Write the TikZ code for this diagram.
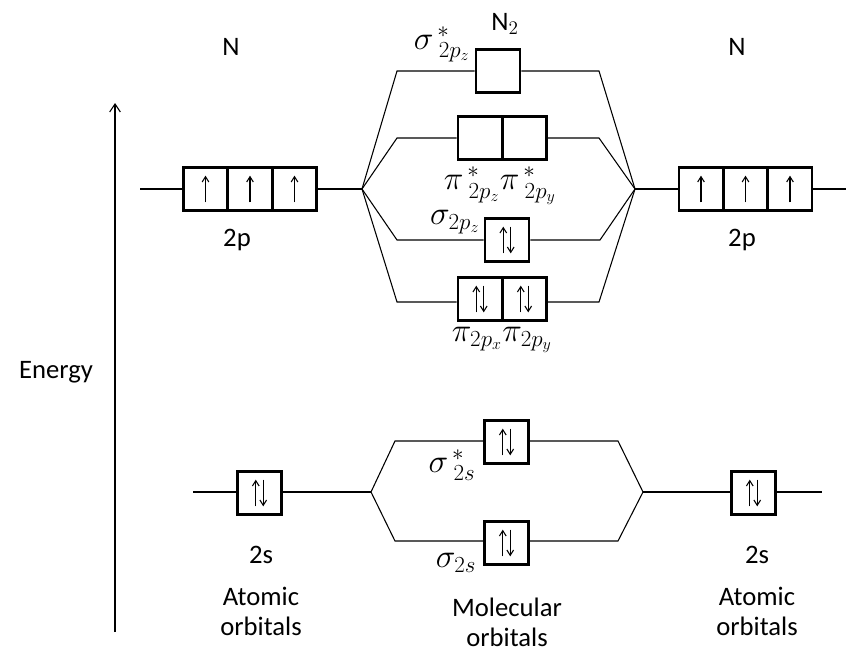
\documentclass[tikz,border=0pt]{standalone}
\usepackage{fontspec}
\setmainfont{Carlito}
\usetikzlibrary{arrows.meta}
\begin{document}
\begin{tikzpicture}[x=0.75pt,y=-0.75pt,
  orb/.style={draw,line width=2pt,rectangle,inner sep=0pt,minimum width=33pt,minimum height=32pt},
  lvl/.style={line width=0.8pt},
  txt/.style={font=\fontsize{20}{22.5}\selectfont,align=center},
  mo/.style={font=\fontsize{23}{26}\selectfont},
  sp/.style={line width=0.8pt,-{Straight Barb[length=4pt,width=5pt]}}
]
\useasboundingbox (0,0) rectangle (846,653);
% labels
\node[txt] (nl) at (231,47) {N};
\node[txt] (nr) at (737,47) {N};
\node[txt] (n2) at (505,24) {N$_2$};
\node[txt] (en) at (56,372) {Energy};
\node[txt] (p2l) at (237,240) {2p};
\node[txt] (p2r) at (742,240) {2p};
\node[txt] (s2l) at (261,555) {2s};
\node[txt] (s2r) at (757,555) {2s};
\node[txt] (aol) at (261,611) {Atomic\\orbitals};
\node[txt] (aor) at (757,611) {Atomic\\orbitals};
\node[txt] (mol) at (507,622) {Molecular\\orbitals};
% energy axis
\coordinate (eb) at (115,632);
\coordinate (et) at (115,103);
\draw[line width=0.8pt,-{Straight Barb[length=6pt,width=8pt]}] (eb) -- (et);
% left 2p
\node[orb] (L1) at (205.5,189) {};
\node[orb] (L2) at (250,189) {};
\node[orb] (L3) at (294.5,189) {};
% right 2p
\node[orb] (R1) at (701,189) {};
\node[orb] (R2) at (745.5,189) {};
\node[orb] (R3) at (790,189) {};
% MO 2p
\node[orb] (SZs) at (498,71) {};
\node[orb] (PXs) at (480,138) {};
\node[orb] (PYs) at (524.5,138) {};
\node[orb] (SZ) at (507,240) {};
\node[orb] (PX) at (480,299) {};
\node[orb] (PY) at (524.5,299) {};
% 2s
\node[orb] (SL) at (259.5,493) {};
\node[orb] (SR) at (753.5,493) {};
\node[orb] (SSs) at (506.5,442) {};
\node[orb] (SS) at (506.5,543) {};
% coordinates
\coordinate (l2e) at (140,189);
\coordinate (vl) at (362,189);
\coordinate (vr) at (635,189);
\coordinate (r2e) at (846,189);
\coordinate (a1) at (397,71);
\coordinate (b1) at (599,71);
\coordinate (a2) at (397,138);
\coordinate (b2) at (599,138);
\coordinate (a3) at (397,240);
\coordinate (b3) at (600,240);
\coordinate (a4) at (397,302);
\coordinate (b4) at (599,302);
\coordinate (sle) at (193,492);
\coordinate (svl) at (371,492);
\coordinate (svr) at (643,492);
\coordinate (sre) at (822,492);
\coordinate (c1) at (395,441);
\coordinate (d1) at (618,441);
\coordinate (c2) at (395,541);
\coordinate (d2) at (618,541);
% connectors 2p
\draw[lvl] (l2e) -- (L1.west);
\draw[lvl] (L3.east) -- (vl);
\draw[lvl] (vr) -- (R1.west);
\draw[lvl] (R3.east) -- (r2e);
\draw[lvl] (vl) -- (a1) -- (SZs.west |- a1);
\draw[lvl] (SZs.east |- b1) -- (b1) -- (vr);
\draw[lvl] (vl) -- (a2) -- (PXs.west |- a2);
\draw[lvl] (PYs.east |- b2) -- (b2) -- (vr);
\draw[lvl] (vl) -- (a3) -- (SZ.west |- a3);
\draw[lvl] (SZ.east |- b3) -- (b3) -- (vr);
\draw[lvl] (vl) -- (a4) -- (PX.west |- a4);
\draw[lvl] (PY.east |- b4) -- (b4) -- (vr);
% connectors 2s
\draw[lvl] (sle) -- (SL.west |- sle);
\draw[lvl] (SL.east |- svl) -- (svl);
\draw[lvl] (svr) -- (SR.west |- svr);
\draw[lvl] (SR.east |- sre) -- (sre);
\draw[lvl] (svl) -- (c1) -- (SSs.west |- c1);
\draw[lvl] (SSs.east |- d1) -- (d1) -- (svr);
\draw[lvl] (svl) -- (c2) -- (SS.west |- c2);
\draw[lvl] (SS.east |- d2) -- (d2) -- (svr);
% electrons: single up
\foreach \b in {L1,L2,L3,R1,R2,R3}{
  \draw[sp] ([yshift=-10pt]\b.center) -- ([yshift=10pt]\b.center);
}
% pairs
\foreach \b in {SZ,PX,PY,SL,SR,SSs,SS}{
  \draw[sp] ([xshift=-2.8pt,yshift=-10pt]\b.center) -- ([xshift=-2.8pt,yshift=10pt]\b.center);
  \draw[sp] ([xshift=2.8pt,yshift=10pt]\b.center) -- ([xshift=2.8pt,yshift=-10pt]\b.center);
}
% MO labels
\node[mo] (lszs) at (442,44) {$\sigma^{\,*}_{\;2p_z}$};
\node[mo] (lpis) at (500,186) {$\pi^{\,*}_{\;2p_z}\pi^{\,*}_{\;2p_y}$};
\node[mo] (lsz) at (455,222) {$\sigma_{2p_z}$};
\node[mo] (lpi) at (502,340) {$\pi_{2p_x}\pi_{2p_y}$};
\node[mo] (lsss) at (452,465) {$\sigma^{\,*}_{\;2s}$};
\node[mo] (lss) at (456,563) {$\sigma_{2s}$};
\end{tikzpicture}
\end{document}
